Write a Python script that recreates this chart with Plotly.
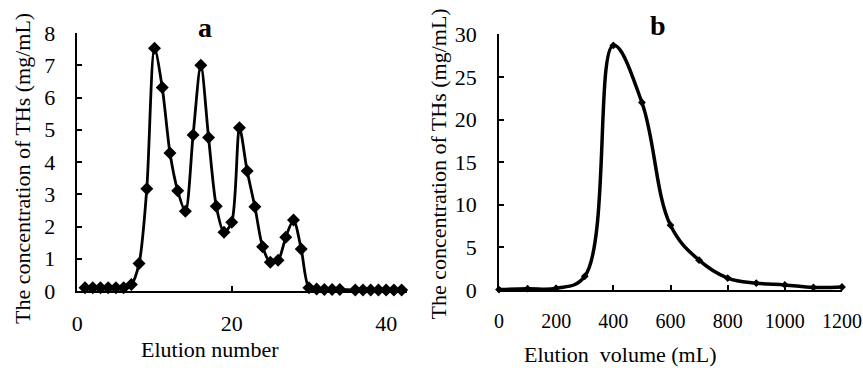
import plotly.graph_objects as go

# Panel a: elution number vs concentration
a_x = [1, 2, 3, 4, 5, 6, 7, 8, 9, 10, 11, 12, 13, 14, 15, 16, 17, 18, 19, 20,
       21, 22, 23, 24, 25, 26, 27, 28, 29, 30, 31, 32, 33, 34,
       36, 37, 38, 39, 40, 41, 42]
a_y = [0.1, 0.1, 0.1, 0.1, 0.1, 0.1, 0.2, 0.85, 3.17, 7.53, 6.31, 4.28, 3.11, 2.47,
       4.84, 7.0, 4.76, 2.63, 1.82, 2.13, 5.06, 3.72, 2.61, 1.37, 0.89, 0.95,
       1.67, 2.2, 1.3, 0.1, 0.06, 0.05, 0.05, 0.05,
       0.03, 0.03, 0.03, 0.03, 0.03, 0.03, 0.03]

# Panel b: elution volume vs concentration
b_x = [0, 100, 200, 300, 400, 500, 600, 700, 800, 900, 1000, 1100, 1200]
b_y = [0.05, 0.15, 0.2, 1.6, 28.7, 22.0, 7.6, 3.5, 1.4, 0.8, 0.6, 0.3, 0.35]

a_xticks = [0, 20, 40]
a_yticks = [0, 1, 2, 3, 4, 5, 6, 7, 8]
b_xticks = [0, 200, 400, 600, 800, 1000, 1200]
b_yticks = [0, 5, 10, 15, 20, 25, 30]

FONT = "Liberation Serif, Times New Roman, serif"
W, H = 863, 368
FS = 22

fig = go.Figure()
fig.add_trace(go.Scatter(
    x=a_x, y=a_y, mode="lines+markers", xaxis="x", yaxis="y",
    line=dict(color="black", width=2.8, shape="spline", smoothing=0.8),
    marker=dict(symbol="diamond", size=10, color="black"),
    cliponaxis=False, showlegend=False))
fig.add_trace(go.Scatter(
    x=b_x, y=b_y, mode="lines+markers", xaxis="x2", yaxis="y2",
    line=dict(color="black", width=3.5, shape="spline", smoothing=1.1),
    marker=dict(symbol="diamond", size=6, color="black"),
    cliponaxis=False, showlegend=False))

axis_common = dict(
    showline=True, linecolor="black", linewidth=1.5, mirror=False,
    ticks="inside", ticklen=5, tickwidth=1.5, tickcolor="black",
    showgrid=False, zeroline=False, automargin=False,
    ticklabeloverflow="allow",
    tickfont=dict(family=FONT, size=FS, color="black"),
)

def px_x(p):
    return p / W

def px_y(p):
    return (H - p) / H

fig.update_layout(
    width=W, height=H,
    margin=dict(l=0, r=0, t=0, b=0),
    paper_bgcolor="white", plot_bgcolor="white",
    font=dict(family=FONT, size=FS, color="black"),
    xaxis=dict(axis_common, domain=[px_x(77.3), px_x(407)], range=[0, 42.7],
               tickvals=a_xticks, anchor="y", ticklabelstandoff=12),
    yaxis=dict(axis_common, domain=[px_y(291), px_y(33)], range=[0, 8],
               tickvals=a_yticks, anchor="x", ticklabelstandoff=16),
    xaxis2=dict(axis_common, domain=[px_x(499), px_x(842)], range=[0, 1200],
                tickvals=b_xticks, anchor="y2", ticklabelstandoff=12,
                tickfont=dict(family=FONT, size=20, color="black")),
    yaxis2=dict(axis_common, domain=[px_y(290), px_y(34.3)], range=[0, 30],
                tickvals=b_yticks, anchor="x2", ticklabelstandoff=16),
)

ann = [
    dict(text="<b>a</b>", x=px_x(205), y=px_y(27), font=dict(size=28, family=FONT), textangle=0),
    dict(text="<b>b</b>", x=px_x(658), y=px_y(25), font=dict(size=28, family=FONT), textangle=0),
    dict(text="Elution number", x=px_x(210), y=px_y(349), font=dict(size=FS, family=FONT), textangle=0),
    dict(text="Elution  volume (mL)", x=px_x(620), y=px_y(354), font=dict(size=FS, family=FONT), textangle=0),
    dict(text="The concentration of THs (mg/mL)", x=px_x(22.5), y=px_y(168.5), font=dict(size=FS, family=FONT), textangle=-90),
    dict(text="The concentration of THs (mg/mL)", x=px_x(438), y=px_y(164.5), font=dict(size=FS, family=FONT), textangle=-90),
]
for a in ann:
    txt = a.pop("text")
    fig.add_annotation(text=txt, xref="paper", yref="paper", xanchor="center", yanchor="middle",
                       showarrow=False, **a)

fig.write_html("out.html")
